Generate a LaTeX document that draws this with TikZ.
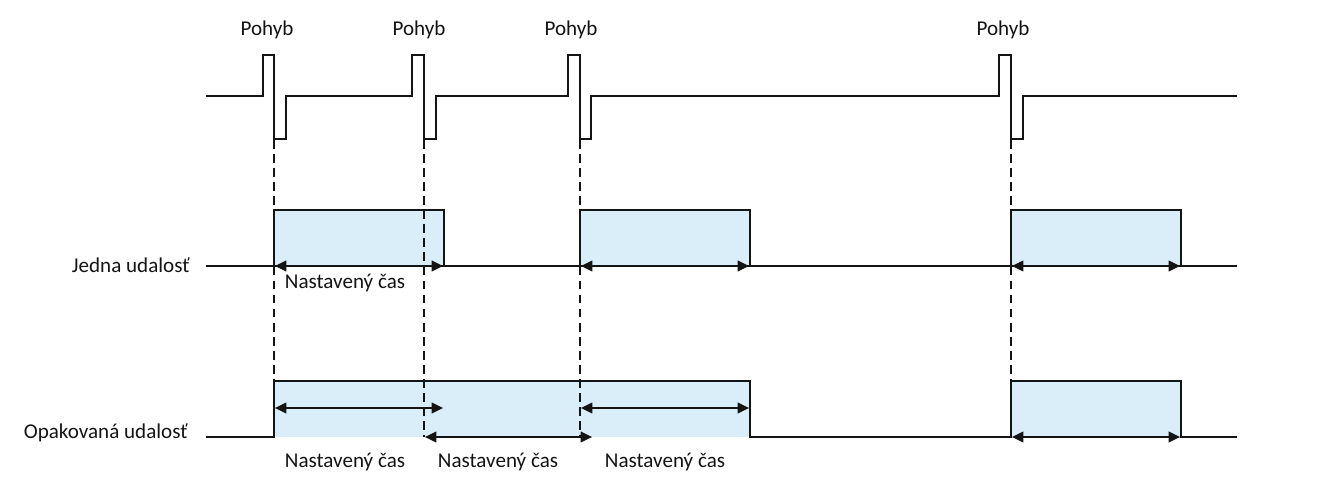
\documentclass[tikz,border=0pt]{standalone}
\usepackage{fontspec}
\setmainfont{Carlito}
\usetikzlibrary{arrows.meta}
\definecolor{boxfill}{RGB}{217,238,248}
\definecolor{ink}{RGB}{20,20,20}
\tikzset{
  sig/.style={line width=1.2pt, draw=ink, line join=miter},
  guide/.style={line width=0.9pt, draw=ink, dash pattern=on 5pt off 3pt},
  span/.style={line width=1pt, draw=ink, {Triangle[length=6.5pt,width=6pt]}-{Triangle[length=6.5pt,width=6pt]}, shorten <=0.5pt, shorten >=0.5pt},
  lbl/.style={font=\fontsize{12}{14}\selectfont, text=ink, inner sep=0pt}
}
\begin{document}
\begin{tikzpicture}[x=0.02cm,y=-0.02cm]
\useasboundingbox (0,0) rectangle (1340,500);
% labels Pohyb
\node[lbl] (p1) at (267,30) {Pohyb};
\node[lbl] (p2) at (419,30) {Pohyb};
\node[lbl] (p3) at (571,30) {Pohyb};
\node[lbl] (p4) at (1003,30) {Pohyb};
% row labels
\node[lbl, anchor=east] (r1) at (190,265) {Jedna udalosť};
\node[lbl, anchor=east] (r2) at (188,433) {Opakovaná udalosť};
% boxes (filled)
\fill[boxfill] (274,210) rectangle (444,266);
\fill[boxfill] (580,210) rectangle (750,266);
\fill[boxfill] (1011,210) rectangle (1181,266);
\fill[boxfill] (274,381) rectangle (750,437);
\fill[boxfill] (1011,381) rectangle (1181,437);
% guides
\coordinate (g1a) at (274,140); \coordinate (g1b) at (274,437);
\coordinate (g2a) at (424,140); \coordinate (g2b) at (424,437);
\coordinate (g3a) at (580,140); \coordinate (g3b) at (580,437);
\coordinate (g4a) at (1011,140); \coordinate (g4b) at (1011,381);
\draw[guide] (g1a) -- (g1b);
\draw[guide] (g2a) -- (g2b);
\draw[guide] (g3a) -- (g3b);
\draw[guide] (g4a) -- (g4b);
% top signal
\draw[sig] (206,96) -- (263,96) -- (263,55) -- (274,55) -- (274,139) -- (286,139) -- (286,96)
  -- (412,96) -- (412,55) -- (424,55) -- (424,139) -- (436,139) -- (436,96)
  -- (568,96) -- (568,55) -- (580,55) -- (580,139) -- (591,139) -- (591,96)
  -- (999,96) -- (999,55) -- (1011,55) -- (1011,139) -- (1023,139) -- (1023,96)
  -- (1237,96);
% Jedna udalost
\draw[sig] (206,266) -- (1237,266);
\draw[sig] (274,266) -- (274,210) -- (444,210) -- (444,266);
\draw[sig] (580,266) -- (580,210) -- (750,210) -- (750,266);
\draw[sig] (1011,266) -- (1011,210) -- (1181,210) -- (1181,266);
\coordinate (j1a) at (274,266); \coordinate (j1b) at (444,266);
\coordinate (j2a) at (580,266); \coordinate (j2b) at (750,266);
\coordinate (j3a) at (1011,266); \coordinate (j3b) at (1181,266);
\draw[span] (j1a) -- (j1b);
\draw[span] (j2a) -- (j2b);
\draw[span] (j3a) -- (j3b);
\node[lbl] (t1) at (345,283) {Nastavený čas};
% Opakovana udalost
\draw[sig] (206,437) -- (274,437) -- (274,381) -- (750,381) -- (750,437) -- (1011,437) -- (1011,381) -- (1181,381) -- (1181,437) -- (1237,437);
\coordinate (o1a) at (274,408); \coordinate (o1b) at (444,408);
\coordinate (o2a) at (424,437); \coordinate (o2b) at (593,437);
\coordinate (o3a) at (580,408); \coordinate (o3b) at (750,408);
\coordinate (o4a) at (1011,437); \coordinate (o4b) at (1181,437);
\draw[span] (o1a) -- (o1b);
\draw[span] (o2a) -- (o2b);
\draw[span] (o3a) -- (o3b);
\draw[span] (o4a) -- (o4b);
\node[lbl] (t2) at (345,462) {Nastavený čas};
\node[lbl] (t3) at (498,462) {Nastavený čas};
\node[lbl] (t4) at (665,462) {Nastavený čas};
\end{tikzpicture}
\end{document}
